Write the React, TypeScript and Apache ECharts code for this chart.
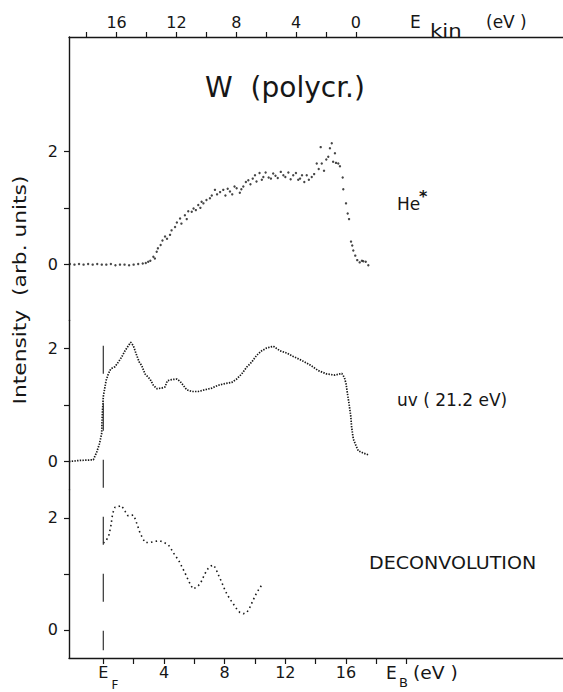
import React, { useEffect, useRef } from 'react';
import * as echarts from 'echarts';

const FONT = '"DejaVu Sans", "Liberation Sans", sans-serif';
const INK = '#161616';

// ---- data: [binding energy E_B (eV), intensity (arb. units)] ----
const heStarPoints: [number, number][] = [
  [-2.2, 0.0], [-1.9, -0.01], [-1.6, 0.0], [-1.3, -0.01], [-1.0, 0.0], [-0.7, -0.01], [-0.4, 0.0],
  [-0.1, -0.01], [0.2, -0.01], [0.5, 0.0], [0.8, -0.02], [1.1, -0.01], [1.4, -0.01], [1.7, -0.02],
  [2.0, -0.01], [2.3, 0.0], [2.6, 0.01], [2.8, 0.02], [2.96, 0.04], [3.1, 0.06], [3.3, 0.13],
  [3.4, 0.1], [3.52, 0.22], [3.6, 0.28], [3.78, 0.34], [3.9, 0.42], [4.07, 0.49], [4.2, 0.45],
  [4.4, 0.52], [4.5, 0.6], [4.73, 0.66], [4.85, 0.74], [5.06, 0.81], [5.15, 0.72], [5.38, 0.87],
  [5.5, 0.8], [5.6, 0.94], [5.83, 0.93], [5.95, 0.99], [6.1, 0.96], [6.26, 1.05], [6.4, 1.0],
  [6.48, 1.11], [6.6, 1.08], [6.8, 1.14], [7.03, 1.17], [7.15, 1.22], [7.36, 1.32], [7.5, 1.24],
  [7.7, 1.28], [7.91, 1.32], [8.05, 1.22], [8.2, 1.34], [8.35, 1.29], [8.5, 1.24], [8.65, 1.38],
  [8.79, 1.35], [9.0, 1.27], [9.1, 1.33], [9.23, 1.38], [9.4, 1.46], [9.56, 1.49], [9.7, 1.42],
  [9.85, 1.52], [10.0, 1.58], [10.1, 1.47], [10.3, 1.62], [10.45, 1.5], [10.55, 1.55], [10.7, 1.63],
  [10.9, 1.54], [11.05, 1.52], [11.2, 1.61], [11.35, 1.57], [11.5, 1.53], [11.7, 1.64], [11.87, 1.58],
  [12.0, 1.55], [12.2, 1.63], [12.35, 1.51], [12.52, 1.58], [12.7, 1.62], [12.85, 1.5], [12.97, 1.52],
  [13.1, 1.58], [13.25, 1.46], [13.41, 1.58], [13.55, 1.5], [13.74, 1.55], [13.9, 1.6], [14.07, 1.79],
  [14.2, 1.69], [14.33, 2.08], [14.4, 1.79], [14.55, 1.66], [14.7, 1.86], [14.83, 1.91], [14.94, 2.06],
  [15.06, 2.15], [15.15, 1.82], [15.27, 1.97], [15.34, 1.8], [15.49, 1.79], [15.6, 1.74], [15.78, 1.54],
  [15.82, 1.33], [16.0, 1.08], [16.11, 0.9], [16.2, 0.8], [16.33, 0.4], [16.41, 0.33], [16.48, 0.24],
  [16.61, 0.15], [16.74, 0.07], [16.9, 0.03], [17.05, 0.06], [17.14, 0.05], [17.3, 0.04], [17.47, -0.02],
];

const uvPoints: [number, number][] = [
  [-2.26, 0.0], [-1.54, 0.02], [-0.66, 0.03], [-0.44, 0.16], [-0.26, 0.31], [-0.11, 0.49], [-0.07, 0.81],
  [0.0, 1.15], [0.11, 1.32], [0.18, 1.43], [0.33, 1.55], [0.49, 1.64], [0.77, 1.68], [0.99, 1.76],
  [1.21, 1.85], [1.43, 1.96], [1.65, 2.05], [1.81, 2.11], [1.98, 2.05], [2.16, 1.91], [2.37, 1.76],
  [2.53, 1.7], [2.75, 1.55], [3.08, 1.46], [3.3, 1.35], [3.52, 1.29], [3.85, 1.3], [4.07, 1.32],
  [4.22, 1.43], [4.51, 1.45], [4.84, 1.46], [5.06, 1.42], [5.27, 1.35], [5.5, 1.27], [5.83, 1.24],
  [6.26, 1.24], [6.7, 1.27], [7.15, 1.3], [7.58, 1.35], [8.02, 1.38], [8.46, 1.4], [8.79, 1.46],
  [9.12, 1.55], [9.45, 1.67], [9.78, 1.76], [10.11, 1.88], [10.44, 1.96], [10.77, 2.01], [11.21, 2.04],
  [11.65, 1.96], [12.09, 1.92], [12.52, 1.86], [13.08, 1.79], [13.63, 1.71], [14.17, 1.61], [14.73, 1.55],
  [15.27, 1.53], [15.72, 1.56], [15.89, 1.49], [16.0, 1.38], [16.08, 1.23], [16.2, 1.02], [16.31, 0.81],
  [16.37, 0.61], [16.48, 0.4], [16.66, 0.28], [16.81, 0.19], [17.14, 0.15], [17.47, 0.12],
];

const deconvolutionPoints: [number, number][] = [
  [0.0, 1.55], [0.18, 1.59], [0.36, 1.68], [0.49, 1.84], [0.62, 2.08], [0.77, 2.19], [0.99, 2.2],
  [1.17, 2.22], [1.32, 2.17], [1.45, 2.11], [1.61, 2.04], [1.81, 2.04], [1.98, 2.05], [2.09, 1.99],
  [2.31, 1.82], [2.42, 1.73], [2.57, 1.65], [2.75, 1.56], [3.08, 1.56], [3.41, 1.58], [3.74, 1.59],
  [4.07, 1.55], [4.28, 1.52], [4.44, 1.46], [4.61, 1.38], [4.79, 1.31], [4.97, 1.24], [5.12, 1.16],
  [5.27, 1.08], [5.45, 0.98], [5.6, 0.89], [5.78, 0.79], [5.93, 0.73], [6.11, 0.76], [6.26, 0.79],
  [6.42, 0.84], [6.59, 0.94], [6.77, 1.04], [6.92, 1.1], [7.1, 1.14], [7.25, 1.16], [7.41, 1.1],
  [7.54, 1.01], [7.69, 0.92], [7.84, 0.83], [8.02, 0.71], [8.17, 0.63], [8.35, 0.55], [8.53, 0.48],
  [8.68, 0.42], [8.83, 0.36], [9.01, 0.31], [9.23, 0.29], [9.45, 0.31], [9.6, 0.37], [9.74, 0.45],
  [9.89, 0.54], [10.05, 0.63], [10.22, 0.71], [10.44, 0.8],
];

// Fermi-level marker (E_B = 0), spanning from the uv onset down to the bottom axis,
// expressed in deconvolution-panel units
const fermiMarker: [number, number][] = [[0, 5.07], [0, -0.36]];

// ---- ticks / labels ----
const bindingTicks = [0, 2, 4, 6, 8, 10, 12, 14, 16, 18, 20];
const bindingLabels = [0, 4, 8, 12, 16];
const kineticTicks = [0, 2, 4, 6, 8, 10, 12, 14, 16, 18];
const kineticLabels = [0, 4, 8, 12, 16];
const intensityTicks = [0, 1, 2];
const intensityLabels = [0, 2];

// axis extents
const EB_MIN = -2.261;
const EB_MAX = 30.303;
const EK_MIN = -13.84;
const EK_MAX = 19.18;

const axisLine = { show: true, onZero: false, lineStyle: { color: INK, width: 1.4 } };
const tick = (values: number[], len = 5) => ({
  show: true,
  inside: false,
  length: len,
  customValues: values,
  lineStyle: { color: INK, width: 1.2 },
});

const yAxis = (grid: number, min: number, max: number) => ({
  type: 'value',
  gridIndex: grid,
  min,
  max,
  axisLine,
  axisTick: tick(intensityTicks),
  axisLabel: {
    customValues: intensityLabels,
    margin: 11,
    color: INK,
    fontSize: 16,
    fontFamily: FONT,
    formatter: (v: number) => String(v),
  },
  splitLine: { show: false },
});

const plainText = (text: string, x: number, y: number, size: number, extra: any = {}) => ({
  type: 'text',
  x,
  y,
  ...extra,
  style: {
    text,
    fontSize: size,
    fontFamily: FONT,
    fill: INK,
    verticalAlign: 'middle',
    textVerticalAlign: 'middle',
    ...(extra.style || {}),
  },
});

export default function App() {
  const ref = useRef<HTMLDivElement>(null);
  useEffect(() => {
    if (!ref.current) return;
    const chart = echarts.init(ref.current, null, { renderer: 'svg' });
    const option: any = {
      animation: false,
      backgroundColor: '#ffffff',
      grid: [
        { left: 69, right: 0, top: 37, height: 283.3 },
        { left: 69, right: 0, top: 320.3, height: 169.5 },
        { left: 69, right: 0, top: 489.8, height: 168.2 },
      ],
      xAxis: [
        { type: 'value', gridIndex: 0, min: EB_MIN, max: EB_MAX, show: false },
        {
          type: 'value',
          gridIndex: 0,
          position: 'top',
          inverse: true,
          min: EK_MIN,
          max: EK_MAX,
          axisLine,
          axisTick: tick(kineticTicks),
          axisLabel: {
            customValues: kineticLabels,
            margin: 6,
            color: INK,
            fontSize: 16,
            lineHeight: 18,
            fontFamily: FONT,
            formatter: (v: number) => String(v),
          },
          splitLine: { show: false },
        },
        { type: 'value', gridIndex: 1, min: EB_MIN, max: EB_MAX, show: false },
        {
          type: 'value',
          gridIndex: 2,
          position: 'bottom',
          min: EB_MIN,
          max: EB_MAX,
          axisLine,
          axisTick: tick(bindingTicks, 6),
          axisLabel: {
            customValues: bindingLabels,
            margin: 6,
            color: INK,
            fontFamily: FONT,
            formatter: (v: number) => (v === 0 ? '{e|E}{s|F}' : `{n|${v}}`),
            rich: {
              n: { fontSize: 16, lineHeight: 18, verticalAlign: 'top', fontFamily: FONT, color: INK },
              e: { fontSize: 16, lineHeight: 18, verticalAlign: 'top', fontFamily: FONT, color: INK, padding: [0, 3, 0, 10] },
              s: { fontSize: 12, lineHeight: 27, verticalAlign: 'bottom', fontFamily: FONT, color: INK },
            },
          },
          splitLine: { show: false },
        },
      ],
      yAxis: [yAxis(0, -1, 4.039), yAxis(1, -0.5, 2.5), yAxis(2, -0.5, 2.5)],
      series: [
        {
          name: 'He*',
          type: 'scatter',
          xAxisIndex: 0,
          yAxisIndex: 0,
          data: heStarPoints,
          symbolSize: 2.4,
          itemStyle: { color: INK },
        },
        {
          name: 'uv (21.2 eV)',
          type: 'line',
          xAxisIndex: 2,
          yAxisIndex: 1,
          data: uvPoints,
          showSymbol: false,
          lineStyle: { color: INK, width: 1.7, type: [1.4, 1.3] },
        },
        {
          name: 'Deconvolution',
          type: 'line',
          xAxisIndex: 3,
          yAxisIndex: 2,
          data: deconvolutionPoints,
          showSymbol: false,
          lineStyle: { color: INK, width: 1.6, type: [1.5, 3.2] },
        },
        {
          name: 'E_F',
          type: 'line',
          xAxisIndex: 3,
          yAxisIndex: 2,
          data: fermiMarker,
          clip: false,
          showSymbol: false,
          lineStyle: { color: '#333', width: 1.2, type: [28, 29] },
        },
      ],
      graphic: [
        plainText('W  (polycr.)', 285, 87, 28, { style: { align: 'center', textAlign: 'center' } }),
        plainText('Intensity  (arb. units)', 20, 290, 17, {
          rotation: Math.PI / 2,
          scaleX: 1.28,
          style: { align: 'center', textAlign: 'center' },
        }),
        // E_kin (eV) at top
        plainText('E', 410, 22, 17),
        plainText('kin', 430, 31, 17, { scaleX: 1.25 }),
        plainText('(eV )', 486, 22, 17),
        // E_B (eV) at bottom
        plainText('E', 386, 673, 17),
        plainText('B', 399, 682, 13),
        plainText('(eV )', 413, 673, 17, { scaleX: 1.1 }),
        // curve labels
        plainText('He', 397, 204, 17),
        plainText('*', 419, 196, 16, { style: { fontWeight: 'bold' } }),
        plainText('uv ( 21.2 eV)', 397, 400, 17),
        plainText('DECONVOLUTION', 369, 563, 18, { scaleX: 1.06 }),
      ],
    };
    chart.setOption(option);
    return () => chart.dispose();
  }, []);
  return (
    <div
      ref={ref}
      style={{ position: 'absolute', left: 0, top: 0, width: 563, height: 692, background: '#fff' }}
    />
  );
}
